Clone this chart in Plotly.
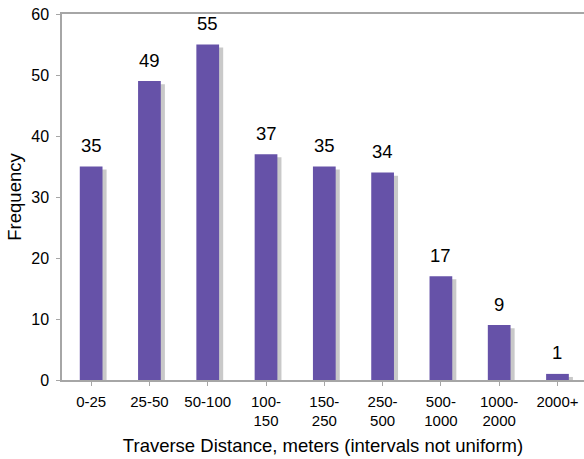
import plotly.graph_objects as go

categories = ["0-25", "25-50", "50-100", "100-<br>150", "150-<br>250", "250-<br>500",
              "500-<br>1000", "1000-<br>2000", "2000+"]
frequency = [35, 49, 55, 37, 35, 34, 17, 9, 1]
y_ticks = [0, 10, 20, 30, 40, 50, 60]

BAR = "#6652A8"
SHADOW = "#C9C9C9"
AXIS = "#A6A6A6"
FONT = "Liberation Sans, Arial, Helvetica, sans-serif"

idx = list(range(len(categories)))

fig = go.Figure()
# shadow bars
fig.add_trace(go.Bar(
    x=idx, y=frequency, base=-0.5, offset=-0.125, width=0.39,
    marker=dict(color=SHADOW, line=dict(width=0)), hoverinfo="skip", showlegend=False,
))
# main bars
fig.add_trace(go.Bar(
    x=idx, y=frequency, offset=-0.195, width=0.39,
    marker=dict(color=BAR, line=dict(width=0)), showlegend=False,
))

for i, v in zip(idx, frequency):
    fig.add_annotation(x=i, y=v, text=str(v), showarrow=False, yshift=21,
                       yanchor="middle", font=dict(size=18.5, color="#000000", family=FONT))

fig.update_layout(
    width=584, height=459,
    margin=dict(l=62, r=0, t=14, b=79),
    plot_bgcolor="white", paper_bgcolor="white",
    barmode="overlay",
    font=dict(family=FONT, color="#000000"),
    xaxis=dict(
        range=[-0.5, 8.455], automargin=False,
        tickmode="array", tickvals=idx, ticktext=categories,
        showline=True, linecolor=AXIS, linewidth=1.5, mirror=True,
        ticks="outside", ticklen=4, tickcolor=AXIS, tickson="boundaries",
        ticklabelstandoff=3, ticklabeloverflow="allow",
        showgrid=False, zeroline=False,
        tickfont=dict(size=15, color="#000000"),
        title=dict(text="Traverse Distance, meters (intervals not uniform)",
                   font=dict(size=18.5, color="#000000"), standoff=11),
    ),
    yaxis=dict(
        range=[0, 60], automargin=False,
        tickmode="array", tickvals=y_ticks,
        showline=True, linecolor=AXIS, linewidth=1.5,
        ticks="outside", ticklen=4, tickcolor=AXIS,
        ticklabelstandoff=4, ticklabeloverflow="allow",
        showgrid=False, zeroline=False,
        tickfont=dict(size=16, color="#000000"),
        title=dict(text="Frequency", font=dict(size=18.5, color="#000000"), standoff=5),
    ),
)

fig.write_html("out.html", config={"displayModeBar": False},
               post_script="document.body.style.margin='0';document.body.style.overflow='hidden';")
